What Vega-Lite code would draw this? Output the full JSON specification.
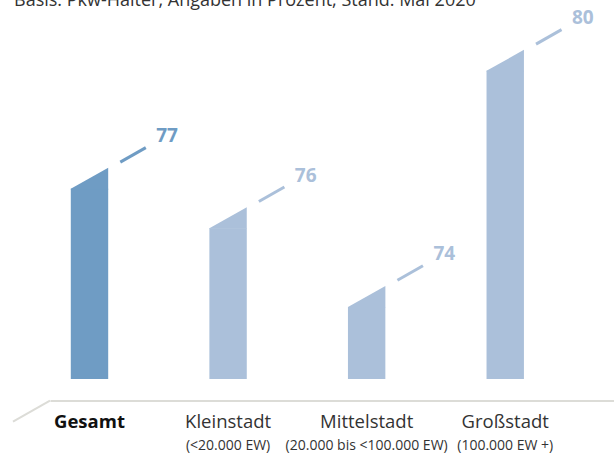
{
  "$schema": "https://vega.github.io/schema/vega-lite/v6.json",
  "width": 564,
  "height": 379,
  "autosize": "none",
  "padding": {"left": 50, "top": 0, "right": 0, "bottom": 77},
  "background": "white",
  "config": {"view": {"stroke": null}, "font": "Open Sans"},
  "title": {
    "text": "Basis: Pkw-Halter, Angaben in Prozent, Stand: Mai 2020",
    "anchor": "start",
    "frame": "group",
    "dx": -36,
    "offset": -24,
    "baseline": "alphabetic",
    "font": "Open Sans",
    "fontSize": 18,
    "fontWeight": "normal",
    "color": "#333333"
  },
  "data": {
    "values": [
      {"cat": "Gesamt|", "value": 77},
      {"cat": "Kleinstadt|(<20.000 EW)", "value": 76},
      {"cat": "Mittelstadt|(20.000 bis <100.000 EW)", "value": 74},
      {"cat": "Großstadt|(100.000 EW +)", "value": 80}
    ]
  },
  "resolve": {"axis": {"x": "independent"}},
  "layer": [
    {
      "mark": {"type": "bar", "yOffset": 10.5},
      "encoding": {
        "x": {
          "field": "cat",
          "type": "nominal",
          "sort": null,
          "scale": {
            "domain": ["Gesamt|", "Kleinstadt|(<20.000 EW)", "Mittelstadt|(20.000 bis <100.000 EW)", "Großstadt|(100.000 EW +)"],
            "paddingInner": 0.7301,
            "paddingOuter": 0.40,
            "align": 0.1876
          },
          "axis": {
            "orient": "bottom",
            "offset": 21.5,
            "title": null,
            "domain": true,
            "domainColor": "#dcdcd7",
            "domainWidth": 2,
            "ticks": false,
            "tickSize": 0,
            "grid": false,
            "labelAngle": 0,
            "labelExpr": "split(datum.label, '|')[0]",
            "labelFont": "Open Sans",
            "labelFontSize": 18.5,
            "labelBaseline": "alphabetic",
            "labelPadding": 26.5,
            "labelLimit": 400,
            "labelOverlap": false,
            "labelColor": {"condition": {"test": "datum.value === 'Gesamt|'", "value": "#111111"}, "value": "#333333"},
            "labelFontWeight": {"condition": {"test": "datum.value === 'Gesamt|'", "value": "bold"}, "value": "normal"}
          }
        },
        "y": {
          "field": "value",
          "type": "quantitative",
          "scale": {"domain": [71.9, 81.534], "nice": false, "zero": false},
          "axis": null
        },
        "y2": {"datum": 71.9},
        "color": {
          "field": "cat",
          "type": "nominal",
          "scale": {
            "domain": ["Gesamt|", "Kleinstadt|(<20.000 EW)", "Mittelstadt|(20.000 bis <100.000 EW)", "Großstadt|(100.000 EW +)"],
            "range": ["#6f9cc4", "#abc0da", "#abc0da", "#abc0da"]
          },
          "legend": null
        }
      }
    },
    {
      "mark": {"type": "point", "shape": "M -1 0.59 L -1 0.5615 L 1 -0.5615 L 1 0.59 Z", "size": 1398.8, "filled": true, "opacity": 1, "strokeWidth": 0},
      "encoding": {
        "x": {"field": "cat", "type": "nominal", "sort": null, "axis": null},
        "y": {"field": "value", "type": "quantitative", "axis": null},
        "color": {"field": "cat", "type": "nominal", "legend": null}
      }
    },
    {
      "mark": {"type": "point", "shape": "M 1.647 -0.866 L 3.011 -1.642", "size": 1398.8, "filled": false, "opacity": 1, "strokeWidth": 3},
      "encoding": {
        "x": {"field": "cat", "type": "nominal", "sort": null, "axis": null},
        "y": {"field": "value", "type": "quantitative", "axis": null},
        "color": {"field": "cat", "type": "nominal", "legend": null}
      }
    },
    {
      "mark": {"type": "text", "dx": 77.6, "dy": -42, "fontSize": 19, "fontWeight": "bold", "align": "center", "baseline": "middle", "font": "Open Sans"},
      "encoding": {
        "x": {
          "field": "cat",
          "type": "nominal",
          "sort": null,
          "axis": {
            "orient": "bottom",
            "offset": 21.5,
            "title": null,
            "domain": false,
            "ticks": false,
            "tickSize": 0,
            "grid": false,
            "labelAngle": 0,
            "labelExpr": "split(datum.label, '|')[1]",
            "labelFont": "Open Sans",
            "labelFontSize": 14,
            "labelBaseline": "alphabetic",
            "labelPadding": 48.5,
            "labelLimit": 400,
            "labelOverlap": false,
            "labelColor": "#333333"
          }
        },
        "y": {"field": "value", "type": "quantitative", "axis": null},
        "text": {"field": "value", "type": "quantitative"},
        "color": {"field": "cat", "type": "nominal", "legend": null}
      }
    },
    {
      "data": {"values": [{}]},
      "mark": {"type": "point", "shape": "M -4.091 2.283 L -2.112 1.160", "size": 1398.8, "filled": false, "opacity": 1, "strokeWidth": 2, "color": "#dcdcd7"},
      "encoding": {
        "x": {"datum": "Gesamt|", "type": "nominal", "axis": null},
        "y": {"datum": 71.9, "type": "quantitative", "axis": null}
      }
    }
  ]
}
